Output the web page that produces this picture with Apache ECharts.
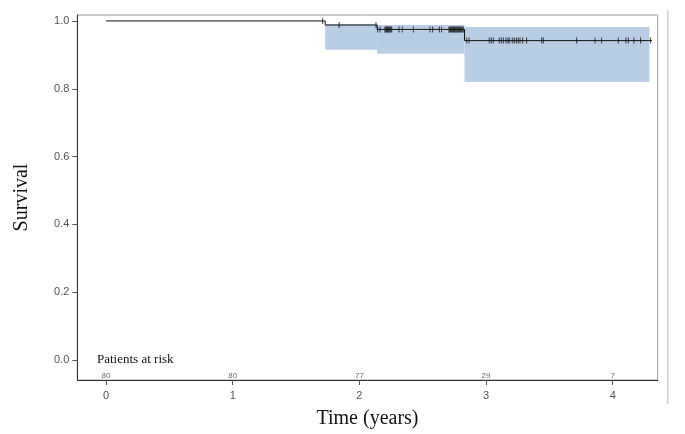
<!DOCTYPE html>
<html>
<head>
<meta charset="utf-8">
<script src="https://cdn.jsdelivr.net/npm/echarts@6/dist/echarts.min.js"></script>
<style>
html,body{margin:0;padding:0;background:#fff;}
#chart{width:685px;height:434px;}
</style>
</head>
<body>
<div id="chart"></div>
<script>
// Kaplan-Meier step curve (time in years, survival)
const kmTimes = [0, 1.73, 2.14, 2.83, 4.31];
const kmSurv  = [1.0, 0.988, 0.975, 0.942, 0.942];

// Confidence band segments: start, end, lower, upper
const ciStart = [1.73, 2.14, 2.83];
const ciEnd   = [2.14, 2.83, 4.29];
const ciLower = [0.915, 0.903, 0.820];
const ciUpper = [0.990, 0.988, 0.982];

// Censoring times
const censorTimes = [
  1.71, 1.84,
  2.131, 2.144, 2.163, 2.202, 2.208, 2.215, 2.222, 2.228, 2.235, 2.241, 2.248, 2.255,
  2.313, 2.339, 2.426, 2.557, 2.578, 2.631, 2.649,
  2.707, 2.714, 2.720, 2.728, 2.736, 2.743, 2.749, 2.756, 2.762, 2.769, 2.776, 2.783, 2.789, 2.797, 2.804, 2.812, 2.820,
  2.847, 2.865,
  3.025, 3.041, 3.057, 3.104, 3.120, 3.136, 3.157, 3.173, 3.183,
  3.207, 3.223, 3.239, 3.254, 3.268, 3.289, 3.320, 3.439, 3.452,
  3.715, 3.860, 3.912, 4.044, 4.104, 4.123, 4.167, 4.220, 4.299
];

// Patients at risk table
const riskTimes = [0, 1, 2, 3, 4];
const riskCounts = [80, 80, 77, 29, 7];

const xTicks = [0, 1, 2, 3, 4];
const yTicks = [0, 0.2, 0.4, 0.6, 0.8, 1.0];

function survAt(t) {
  let s = kmSurv[0];
  for (let i = 0; i < kmTimes.length; i++) {
    if (kmTimes[i] <= t) s = kmSurv[i];
  }
  return s;
}

const chart = echarts.init(document.getElementById('chart'), null, {renderer: 'canvas'});

const option = {
  animation: false,
  backgroundColor: '#fff',
  grid: {left: 77.3, top: 15, right: 27.3, bottom: 51, containLabel: false,
         show: true, borderColor: '#9a9a9a', borderWidth: 1, backgroundColor: 'transparent'},
  xAxis: {
    type: 'value', min: -0.227, max: 4.355,
    splitLine: {show: false},
    axisLine: {show: true, onZero: false, lineStyle: {color: '#333', width: 1}},
    axisTick: {show: true, length: 5, customValues: xTicks, lineStyle: {color: '#555'}},
    axisLabel: {customValues: xTicks, color: '#555', fontFamily: 'Liberation Sans, Arial, sans-serif', fontSize: 11, margin: 10,
                formatter: v => String(v)},
    name: 'Time (years)', nameLocation: 'middle', nameGap: 29,
    nameTextStyle: {fontFamily: 'Liberation Serif, Times New Roman, serif', fontSize: 20, color: '#111'}
  },
  yAxis: {
    type: 'value', min: -0.0585, max: 1.0175,
    splitLine: {show: false},
    axisLine: {show: true, onZero: false, lineStyle: {color: '#333', width: 1}},
    axisTick: {show: true, length: 5, customValues: yTicks, lineStyle: {color: '#555'}},
    axisLabel: {customValues: yTicks, color: '#555', fontFamily: 'Liberation Sans, Arial, sans-serif', fontSize: 11, margin: 8,
                formatter: v => v.toFixed(1)},
    name: 'Survival', nameLocation: 'middle', nameGap: 46, nameRotate: 90,
    nameTextStyle: {fontFamily: 'Liberation Serif, Times New Roman, serif', fontSize: 20, color: '#111'}
  },
  series: [
    {
      type: 'custom',
      data: ciStart.map((s, i) => [s, ciEnd[i], ciLower[i], ciUpper[i]]),
      renderItem: function (params, api) {
        const p0 = api.coord([api.value(0), api.value(3)]);
        const p1 = api.coord([api.value(1), api.value(2)]);
        return {type: 'rect', shape: {x: p0[0], y: p0[1], width: p1[0] - p0[0], height: p1[1] - p0[1]},
                style: {fill: '#b9cde5'}};
      },
      encode: {x: [0, 1], y: [2, 3]},
      z: 1
    },
    {
      type: 'line',
      step: 'end',
      data: kmTimes.map((t, i) => [t, kmSurv[i]]),
      showSymbol: false,
      lineStyle: {color: '#111', width: 1},
      z: 3
    },
    {
      type: 'scatter',
      data: censorTimes.map(t => [t, survAt(t)]),
      symbol: 'rect',
      symbolSize: [1, 6],
      itemStyle: {color: '#111'},
      z: 4
    },
    {
      type: 'scatter',
      data: riskTimes.map((t, i) => [t, -0.046, riskCounts[i]]),
      symbolSize: 0,
      label: {show: true, position: 'inside', formatter: p => String(p.value[2]),
              fontFamily: 'Liberation Sans, Arial, sans-serif', fontSize: 8, color: '#444'},
      z: 4
    }
  ],
  graphic: [
    {type: 'text', left: 97, top: 353,
     style: {text: 'Patients at risk', font: '13px "Liberation Serif", "Times New Roman", serif', fill: '#111'}},
    {type: 'line', shape: {x1: 667.7, y1: 10, x2: 667.7, y2: 404},
     style: {stroke: '#cfcfcf', lineWidth: 1.5}}
  ]
};
chart.setOption(option);
</script>
</body>
</html>
